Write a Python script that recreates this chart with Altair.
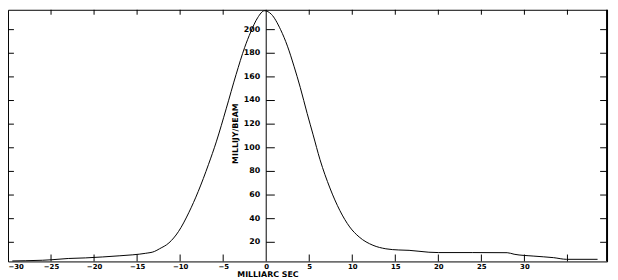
import altair as alt
import pandas as pd

# ---- data ----
offset_mas = [-29.5, -28, -26, -25, -23, -21, -19, -17, -15.5, -14, -13, -12.4, -11.3,
              -10.2, -9.0, -7.9, -6.7, -5.8, -4.65, -3.5, -2.5, -1.8, -1.0, -0.2,
              0.6, 1.67, 2.47, 3.23, 3.96, 4.76, 5.45, 6.25, 7.4, 8.55, 9.7, 10.8,
              12.4, 13.9, 15.4, 16.6, 18.9, 20, 24, 28, 28.8, 31.1, 33.4, 34.9, 38.5]
flux_mjy = [4.2, 4.4, 4.8, 5.2, 6.3, 6.8, 7.6, 8.6, 9.4, 10.7, 12.2, 14.5, 19.5,
            29.0, 45.0, 63.0, 86.0, 105.0, 133.0, 162.0, 185.0, 198.0, 210.0, 216.0,
            213.0, 200.0, 186.0, 169.0, 151.0, 129.0, 111.0, 90.0, 66.0, 47.0, 33.0, 24.5,
            17.5, 14.5, 13.5, 13.2, 11.6, 11.3, 11.3, 11.2, 9.9, 8.3, 7.0, 5.6, 5.6]

x_label_values = [-30, -25, -20, -15, -10, -5, 0, 5, 10, 15, 20, 25, 30]
x_tick_values = [-25, -20, -15, -10, -5, 5, 10, 15, 20, 25, 30, 35]
y_tick_values = [20, 40, 60, 80, 100, 120, 140, 160, 180, 200]
x_title = "MILLIARC SEC"
y_title = "MILLIJY/BEAM"

X_DOMAIN = [-30, 39.6]
Y_DOMAIN = [3.8, 216.8]
W, H = 607, 255
FONT = "DejaVu Sans"

curve = pd.DataFrame({"x": offset_mas, "y": flux_mjy})
yt = pd.DataFrame({"v": y_tick_values, "label": [str(v) for v in y_tick_values]})
xt = pd.DataFrame({"v": x_tick_values})
one = pd.DataFrame({"a": [0]})

xs = alt.Scale(domain=X_DOMAIN, nice=False, zero=False)
ys = alt.Scale(domain=Y_DOMAIN, nice=False, zero=False)

line = alt.Chart(curve).mark_line(color="black", strokeWidth=1, interpolate="monotone").encode(
    x=alt.X("x:Q", scale=xs,
            axis=alt.Axis(values=x_label_values, tickSize=0, domain=False, grid=False,
                          labelFont=FONT, labelFontSize=7, labelFontWeight="bold",
                          labelColor="black", labelPadding=1, title=None,
                          labelFlush=True, labelOverlap=False)),
    y=alt.Y("y:Q", scale=ys, axis=None),
)

center_axis = alt.Chart(one).mark_rule(color="black", strokeWidth=1).encode(
    x=alt.datum(0, scale=xs), y=alt.value(0), y2=alt.value(H))

center_ticks = alt.Chart(yt).mark_rule(color="black", strokeWidth=1).encode(
    x=alt.datum(0, scale=xs), x2=alt.datum(1.0), y=alt.Y("v:Q", scale=ys))

center_labels = alt.Chart(yt).mark_text(
    align="right", baseline="middle", dx=-6, font=FONT, fontSize=8,
    fontWeight="bold", color="black").encode(
    x=alt.datum(0, scale=xs), y=alt.Y("v:Q", scale=ys), text="label:N")

left_ticks = alt.Chart(yt).mark_rule(color="black").encode(
    x=alt.value(0), x2=alt.value(6), y=alt.Y("v:Q", scale=ys))
right_ticks = alt.Chart(yt).mark_rule(color="black").encode(
    x=alt.value(W - 7), x2=alt.value(W), y=alt.Y("v:Q", scale=ys))
bottom_ticks = alt.Chart(xt).mark_rule(color="black").encode(
    x=alt.X("v:Q", scale=xs), y=alt.value(H - 7), y2=alt.value(H))
top_ticks = alt.Chart(xt).mark_rule(color="black").encode(
    x=alt.X("v:Q", scale=xs), y=alt.value(0), y2=alt.value(5))

right_edge = alt.Chart(one).mark_rule(color="black", strokeWidth=2).encode(
    x=alt.value(W), y=alt.value(0), y2=alt.value(H))

y_title_mark = alt.Chart(one).mark_text(
    angle=270, align="center", baseline="middle", font=FONT, fontSize=8,
    fontWeight="bold", color="black", text=y_title).encode(
    x=alt.datum(-3.5, scale=xs), y=alt.datum(112, scale=ys))

x_title_mark = alt.Chart(one).mark_text(
    align="center", baseline="middle", font=FONT, fontSize=8,
    fontWeight="bold", color="black", text=x_title).encode(
    x=alt.datum(0.2, scale=xs), y=alt.value(H + 14))

chart = alt.layer(
    line, center_axis, center_ticks, center_labels, left_ticks, right_ticks,
    bottom_ticks, top_ticks, right_edge, y_title_mark, x_title_mark
).properties(
    width=W, height=H,
    autosize=alt.AutoSizeParams(type="none"),
    padding={"left": 0, "top": 0, "right": 3, "bottom": 17},
    background="white",
).configure_view(stroke="black", strokeWidth=1)

chart.save("out.html", embed_options={"renderer": "svg", "actions": False})
